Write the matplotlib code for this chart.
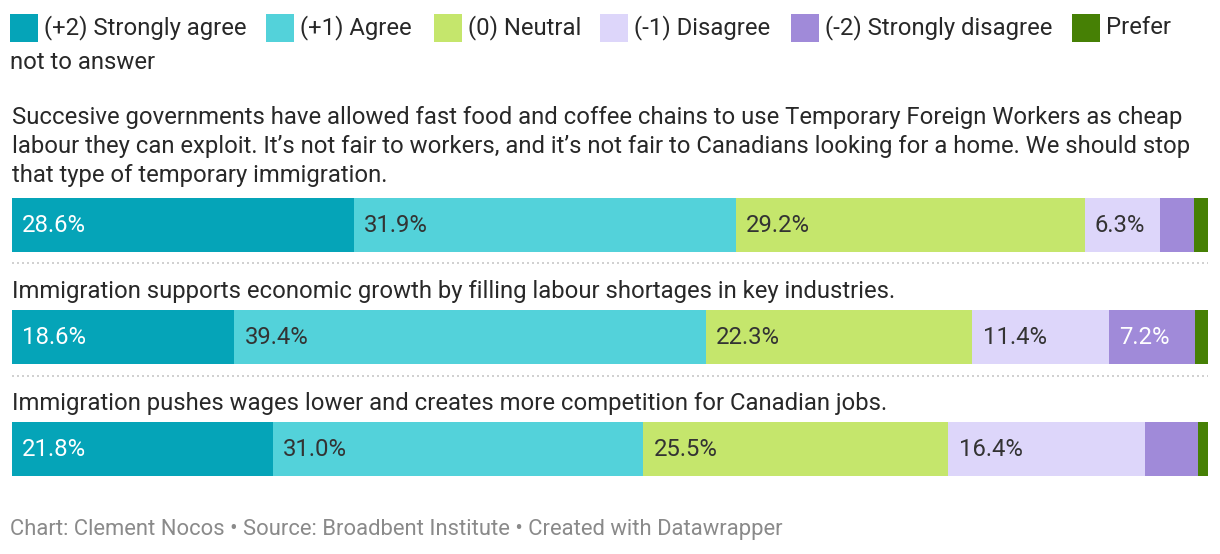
import matplotlib
matplotlib.use("Agg")
import matplotlib.pyplot as plt
from matplotlib.patches import Rectangle

plt.rcParams['font.family'] = ['Roboto', 'DejaVu Sans']

categories = ["(+2) Strongly agree", "(+1) Agree", "(0) Neutral",
              "(-1) Disagree", "(-2) Strongly disagree", "Prefer not to answer"]
colors = ["#05a4b8", "#53d2da", "#c5e66c", "#ddd6fa", "#a08ad9", "#468005"]
label_colors = ["white", "#333333", "#333333", "#333333", "white", "white"]

q1_lines = [
    "Succesive governments have allowed fast food and coffee chains to use Temporary Foreign Workers as cheap",
    "labour they can exploit. It\u2019s not fair to workers, and it\u2019s not fair to Canadians looking for a home. We should stop",
    "that type of temporary immigration.",
]
q2_lines = ["Immigration supports economic growth by filling labour shortages in key industries."]
q3_lines = ["Immigration pushes wages lower and creates more competition for Canadian jobs."]
questions = [q1_lines, q2_lines, q3_lines]

q1_values = [28.6, 31.9, 29.2, 6.3, 2.8, 1.2]
q2_values = [18.6, 39.4, 22.3, 11.4, 7.2, 1.1]
q3_values = [21.8, 31.0, 25.5, 16.4, 4.5, 0.8]
values = [q1_values, q2_values, q3_values]

footer = "Chart: Clement Nocos \u2022 Source: Broadbent Institute \u2022 Created with Datawrapper"

W, H = 1220, 554
fig = plt.figure(figsize=(W / 100, H / 100), dpi=100)

# overlay axes in pixel coordinates for text / legend
ov = fig.add_axes([0, 0, 1, 1])
ov.set_xlim(0, W)
ov.set_ylim(H, 0)
ov.axis("off")

# bar axes, x in percent
bx = fig.add_axes([12 / W, 0, 1196 / W, 1])
bx.set_xlim(0, 100)
bx.set_ylim(H, 0)
bx.axis("off")

fs = 17.2
txt = "#282828"

# legend
leg_x = [10, 266, 434, 600, 791, 1072]
leg_labels = ["(+2) Strongly agree", "(+1) Agree", "(0) Neutral",
              "(-1) Disagree", "(-2) Strongly disagree", "Prefer"]
for x, lab, c in zip(leg_x, leg_labels, colors):
    ov.add_patch(Rectangle((x, 14), 28, 28, color=c, lw=0))
    ov.text(x + 34, 34.5, lab, fontsize=fs, color=txt, va="baseline", ha="left")
ov.text(10, 69, "not to answer", fontsize=fs, color=txt, va="baseline", ha="left")

title_base = [124, 298, 410]
line_step = 29
bar_y = [225, 337, 449]
bar_h = 54
sep_y = [263, 376]

for qi, (lines, vals) in enumerate(zip(questions, values)):
    for li, line in enumerate(lines):
        ov.text(12, title_base[qi] + li * line_step, line, fontsize=fs, color=txt,
                va="baseline", ha="left")
    left = 0
    for v, c, lc in zip(vals, colors, label_colors):
        bx.barh(bar_y[qi], v, left=left, height=bar_h, color=c, lw=0)
        if v >= 5:
            bx.text(left + 0.85, bar_y[qi] + 7, f"{v:.1f}%", fontsize=fs, color=lc,
                    va="baseline", ha="left")
        left += v

for y in sep_y:
    ov.plot([12, 1208], [y, y], color="#c8c8c8", lw=1.2, ls=(0, (1.2, 1.8)))

ov.text(10, 535, footer, fontsize=15.85, color="#8a8a8a", va="baseline", ha="left")

fig.savefig("out.png", dpi=100)
